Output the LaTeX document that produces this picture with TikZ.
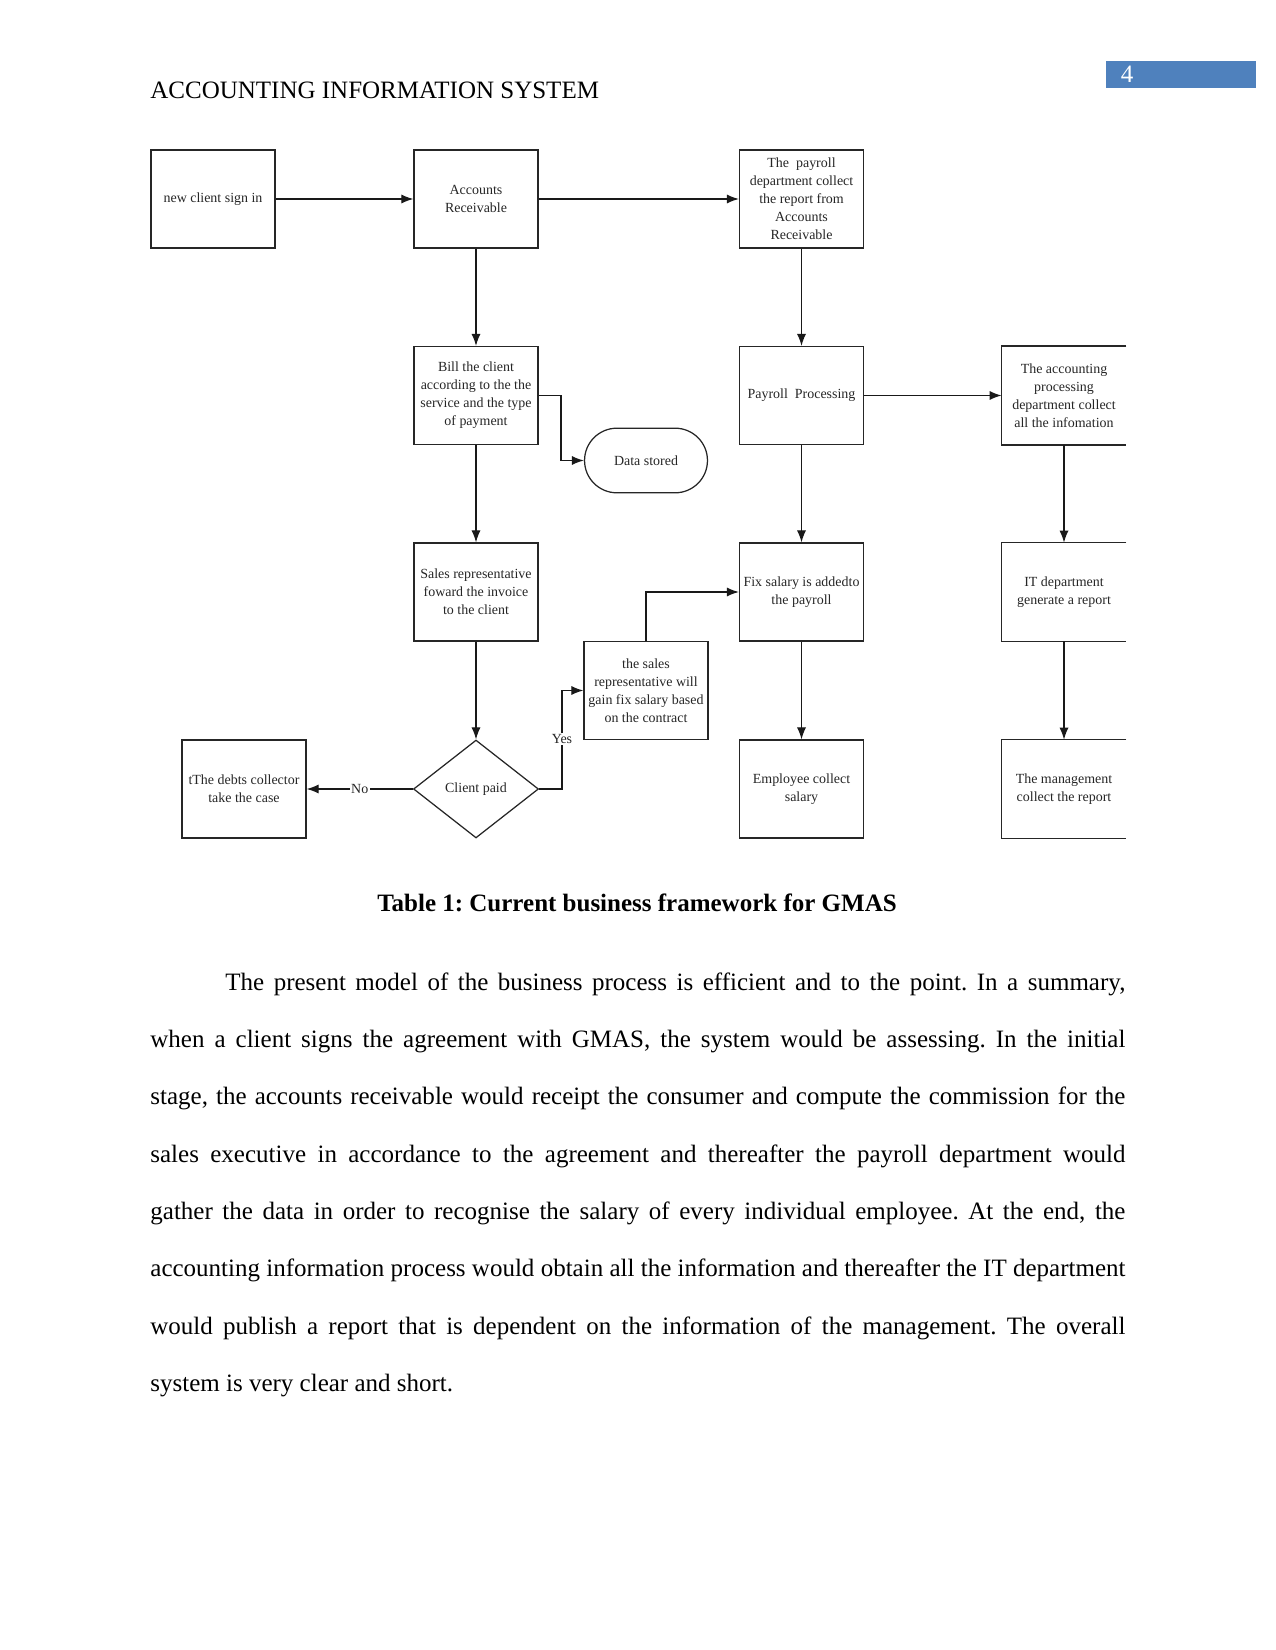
\documentclass[tikz,border=0pt]{standalone}
\usepackage{fontspec}
\setmainfont{Liberation Serif}
\usetikzlibrary{shapes.geometric,arrows.meta}
\definecolor{pgblue}{RGB}{79,129,189}
\frenchspacing
\begin{document}
\begin{tikzpicture}[x=0.48pt,y=-0.48pt,
  box/.style={draw=black!85,line width=0.6pt,minimum width=59.5pt,minimum height=47pt,inner sep=1pt,align=center,
    font=\fontsize{6.7}{8.6}\selectfont,text=black!85},
  obox/.style={minimum width=59.5pt,minimum height=47pt,inner sep=1pt,align=center,
    font=\fontsize{6.7}{8.6}\selectfont,text=black!85},
  arr/.style={line width=0.6pt,draw=black!90,-{Latex[length=5.8pt,width=4.4pt]}},
  lbl/.style={fill=white,inner sep=0.8pt,font=\fontsize{6.7}{8.6}\selectfont,text=black!85}]
\useasboundingbox (0,0) rectangle (1275,1650);
% header
\node[anchor=base west,inner sep=0,font=\fontsize{12}{14}\selectfont] (hdr) at (150,99) {ACCOUNTING INFORMATION SYSTEM};
\node[fill=pgblue,minimum width=72pt,minimum height=13pt,inner sep=0] (pgbox) at (1181,74.5) {};
\node[text=white,inner sep=0,font=\fontsize{12}{14}\selectfont] (pgnum) at (1127,74.5) {4};
% boxes
\node[box] (ncs) at (213,199) {new client sign in};
\node[box] (ar) at (476,199) {Accounts\\Receivable};
\node[box] (pd) at (801.5,199) {The~ payroll\\department collect\\the report from\\Accounts\\Receivable};
\node[box] (bill) at (476,395.5) {Bill the client\\according to the the\\service and the type\\of payment};
\node[draw=black!85,line width=0.6pt,rounded corners=15.5pt,minimum width=59pt,minimum height=31pt,inner sep=1pt,
  font=\fontsize{6.7}{8.6}\selectfont,text=black!85] (ds) at (646,460.5) {Data stored};
\node[box] (pp) at (801.5,395.5) {Payroll~ Processing};
\node[obox] (acc) at (1064,395.5) {The accounting\\processing\\department collect\\all the infomation};
\node[box] (sr) at (476,592) {Sales representative\\foward the invoice\\to the client};
\node[box] (gain) at (646,690.5) {the sales\\representative will\\gain fix salary based\\on the contract};
\node[box] (fix) at (801.5,592) {Fix salary is addedto\\the payroll};
\node[obox] (it) at (1064,592) {IT department\\generate a report};
\node[box] (debt) at (244,789) {tThe debts collector\\take the case};
\node[draw=black!85,line width=0.6pt,diamond,aspect=1.28,minimum width=60pt,minimum height=47pt,inner sep=0,
  font=\fontsize{6.7}{8.6}\selectfont,text=black!85] (cp) at (476,789) {Client paid};
\node[box] (emp) at (801.5,789) {Employee collect\\salary};
\node[obox] (mgmt) at (1064,789) {The management\\collect the report};
% open-right boxes
\foreach \n in {acc,it,mgmt}
  \draw[draw=black!85,line width=0.6pt] (\n.north east) -- (\n.north west) -- (\n.south west) -- (\n.south east);
% connectors
\draw[arr] (ncs) -- (ar);
\draw[arr] (ar) -- (pd);
\draw[arr] (ar) -- (bill);
\draw[arr] (pd) -- (pp);
\coordinate (b1) at (561,395.5);
\draw[arr] (bill.east) -- (b1) |- (ds.west);
\draw[arr] (bill) -- (sr);
\draw[arr] (pp) -- (acc);
\draw[arr] (pp) -- (fix);
\draw[arr] (acc) -- (it);
\draw[arr] (sr) -- (cp);
\draw[arr] (cp.west) -- node[lbl] {No} (debt.east);
\coordinate (y1) at (562,789);
\draw[arr] (cp.east) -- (y1) |- (gain.west);
\node[lbl] (yes) at (562,739) {Yes};
\draw[arr] (gain.north) |- (fix.west);
\draw[arr] (fix) -- (emp);
\draw[arr] (it) -- (mgmt);
% caption
\node[anchor=base,inner sep=0,font=\bfseries\fontsize{12}{14}\selectfont] (cap) at (637,911) {Table 1: Current business framework for GMAS};
% paragraph
\node[anchor=base west,inner sep=0,text width=468pt,align=justify,font=\fontsize{12}{27.55}\selectfont] (para) at (150,990)
{\hspace*{36pt}The present model of the business process is efficient and to the point. In a summary,\linebreak
when a client signs the agreement with GMAS, the system would be assessing. In the initial\linebreak
stage, the accounts receivable would receipt the consumer and compute the commission for the\linebreak
sales executive in accordance to the agreement and thereafter the payroll department would\linebreak
gather the data in order to recognise the salary of every individual employee. At the end, the\linebreak
accounting information process would obtain all the information and thereafter the IT department\linebreak
would publish a report that is dependent on the information of the management. The overall\linebreak
system is very clear and short.};
\end{tikzpicture}
\end{document}
